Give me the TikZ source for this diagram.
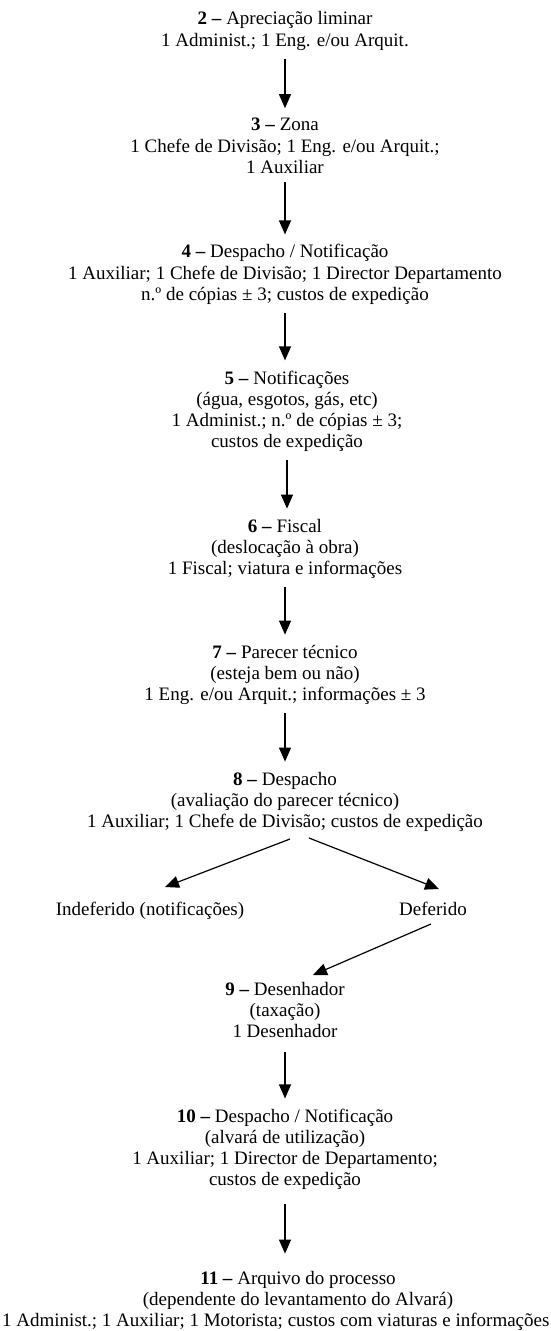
\documentclass[tikz,border=0pt]{standalone}
\usepackage{fontspec}
\setmainfont{Liberation Serif}
\usetikzlibrary{arrows.meta}
\begin{document}
\begin{tikzpicture}[x=1bp,y=-1bp,
  % multi-line labels: the base anchor sits on the last line
  lbl/.style={align=center, inner sep=0pt, anchor=base,
    font=\fontsize{19bp}{21.3bp}\selectfont},
  flow/.style={-{Triangle[length=14bp,width=12bp]}, line width=1.2bp},
  vflow/.style={flow, shorten <=8bp, shorten >=10bp}]
\useasboundingbox (0,0) rectangle (551,1331);

% process steps
\node[lbl] (n2) at (285,46.3) {\textbf{2 –} Apreciação liminar\\1 Administ.; 1 Eng. e/ou Arquit.};
\node[lbl] (n3) at (285,173.6) {\textbf{3 –} Zona\\1 Chefe de Divisão; 1 Eng. e/ou Arquit.;\\1 Auxiliar};
\node[lbl] (n4) at (285,300.6) {\textbf{4 –} Despacho / Notificação\\1 Auxiliar; 1 Chefe de Divisão; 1 Director Departamento\\n.º de cópias ± 3; custos de expedição};
\node[lbl] (n5) at (287,447.9) {\textbf{5 –} Notificações\\(água, esgotos, gás, etc)\\1 Administ.; n.º de cópias ± 3;\\custos de expedição};
\node[lbl] (n6) at (285,574.6) {\textbf{6 –} Fiscal\\(deslocação à obra)\\1 Fiscal; viatura e informações};
\node[lbl] (n7) at (285,700.6) {\textbf{7 –} Parecer técnico\\(esteja bem ou não)\\1 Eng. e/ou Arquit.; informações ± 3};
\node[lbl] (n8) at (285,827.6) {\textbf{8 –} Despacho\\(avaliação do parecer técnico)\\1 Auxiliar; 1 Chefe de Divisão; custos de expedição};
\node[lbl] (ind) at (150,915) {Indeferido (notificações)};
\node[lbl] (def) at (433,915) {Deferido};
\node[lbl] (n9) at (285,1037.6) {\textbf{9 –} Desenhador\\(taxação)\\1 Desenhador};
\node[lbl] (n10) at (285,1185.9) {\textbf{10 –} Despacho / Notificação\\(alvará de utilização)\\1 Auxiliar; 1 Director de Departamento;\\custos de expedição};
\node[lbl] (n11) at (298,1305.3) {\textbf{11 –} Arquivo do processo\\(dependente do levantamento do Alvará)};
\node[lbl, anchor=base west] (n11c) at (2,1326.6) {1 Administ.; 1 Auxiliar; 1 Motorista; custos com viaturas e informações};

% straight flow
\draw[vflow] (n2) -- (n3);
\draw[vflow] (n3) -- (n4);
\draw[vflow] (n4.south) -- (n4.south |- n5.north);
\draw[vflow] (n5.south) -- (n5.south |- n6.north);
\draw[vflow] (n6) -- (n7);
\draw[vflow] (n7) -- (n8);
\draw[vflow, shorten <=14bp] (n9) -- (n10);
\draw[vflow, shorten <=14bp, shorten >=17bp] (n10.south) -- (n10.south |- n11.north);

% decision branches
\coordinate (s8l) at (290,839);
\coordinate (s8r) at (309,838);
\coordinate (tind) at (165,887);
\coordinate (tdef) at (439,889);
\coordinate (sdef) at (431,924);
\coordinate (t9) at (313,975);
\draw[flow] (s8l) -- (tind);
\draw[flow] (s8r) -- (tdef);
\draw[flow] (sdef) -- (t9);
\end{tikzpicture}
\end{document}
